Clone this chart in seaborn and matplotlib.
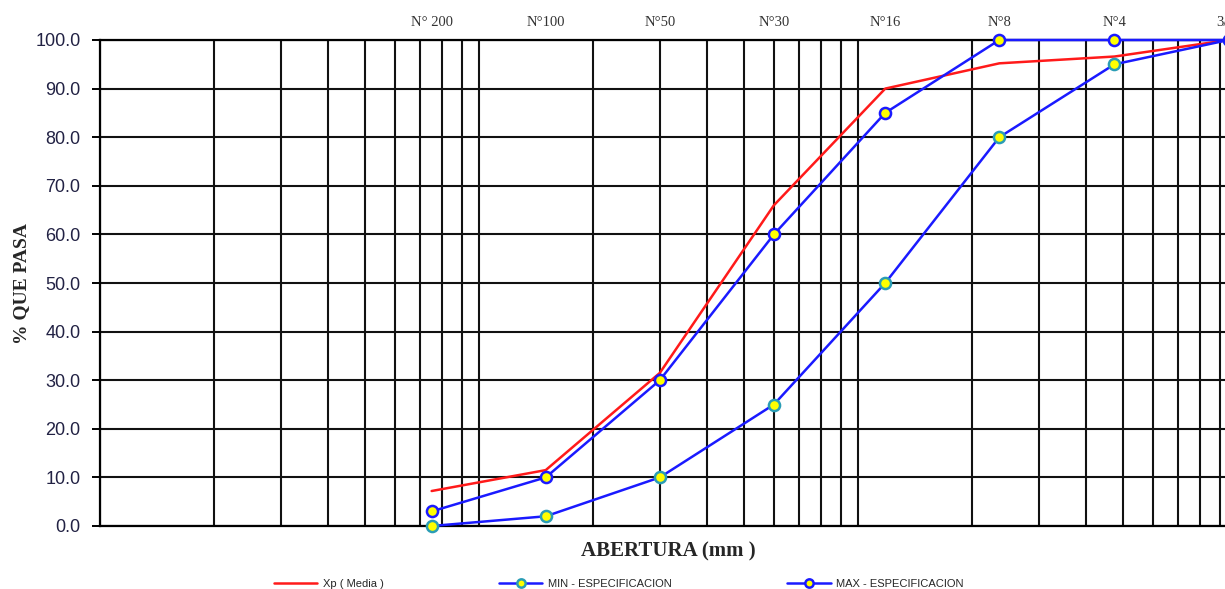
import pandas as pd
import matplotlib
matplotlib.use("Agg")
import matplotlib.pyplot as plt
import matplotlib.ticker as mticker
import seaborn as sns

# Curva granulométrica: tamices y porcentajes que pasan
tamices = ["N° 200", "N°100", "N°50", "N°30", "N°16", "N°8", "N°4", "3/8\""]
abertura = [0.075, 0.15, 0.3, 0.6, 1.18, 2.36, 4.75, 9.5]
xp_media = [7.2, 11.5, 31.5, 66.0, 90.0, 95.2, 96.6, 100.0]
min_espec = [0.0, 2.0, 10.0, 25.0, 50.0, 80.0, 95.0, 100.0]
max_espec = [3.0, 10.0, 30.0, 60.0, 85.0, 100.0, 100.0, 100.0]

df = pd.DataFrame({
    "Abertura": abertura,
    "Xp": xp_media,
    "MIN": min_espec,
    "MAX": max_espec,
})

sns.set_style("white")
plt.rcParams["font.family"] = ["Liberation Sans", "DejaVu Sans"]

fig = plt.figure(figsize=(12.25, 5.89), dpi=100)
ax = fig.add_axes([100 / 1225, 63 / 589, 1137 / 1225, 486 / 589])
ax.set_xscale("log")

sns.lineplot(data=df, x="Abertura", y="Xp", ax=ax, color="#FF1A1A", lw=1.8,
             label="Xp ( Media )", zorder=4)
sns.lineplot(data=df, x="Abertura", y="MIN", ax=ax, color="#1A1AFF", lw=1.8,
             marker="o", markersize=8, markerfacecolor="#FFFF00",
             markeredgecolor="#2A9DB5", markeredgewidth=1.8,
             label="MIN - ESPECIFICACION", zorder=5, clip_on=False)
sns.lineplot(data=df, x="Abertura", y="MAX", ax=ax, color="#1A1AFF", lw=1.8,
             marker="o", markersize=8, markerfacecolor="#FFFF00",
             markeredgecolor="#1A1AFF", markeredgewidth=1.8,
             label="MAX - ESPECIFICACION", zorder=5, clip_on=False)

ax.set_xlim(0.01, 10)
ax.set_ylim(0, 100)
ax.set_yticks(range(0, 101, 10))
ax.yaxis.set_major_formatter(mticker.FormatStrFormatter("%.1f"))
ax.xaxis.set_major_formatter(mticker.NullFormatter())
ax.xaxis.set_minor_formatter(mticker.NullFormatter())
ax.xaxis.set_minor_locator(mticker.LogLocator(base=10, subs=range(2, 10)))
ax.grid(which="both", color="#111111", lw=1.5)
ax.tick_params(axis="x", which="both", length=0)
ax.tick_params(axis="y", length=6, width=1.4, color="black", left=True,
               labelsize=13, labelcolor="#222244", pad=8)
for s in ax.spines.values():
    s.set_color("black")
    s.set_linewidth(1.6)

ax.set_xlabel("ABERTURA (mm )", fontsize=15, fontweight="bold",
              family="Liberation Serif", labelpad=8)
ax.set_ylabel("% QUE PASA", fontsize=14, fontweight="bold",
              family="Liberation Serif", labelpad=4)

# Nombres de tamices arriba
top = ax.secondary_xaxis("top")
top.set_xticks(abertura)
top.set_xticklabels(tamices, fontsize=10.5, family="Liberation Serif", color="#333333")
top.xaxis.set_minor_locator(mticker.NullLocator())
top.tick_params(length=0, pad=8)
top.spines["top"].set_visible(False)

ax.legend_.remove()
h, l = ax.get_legend_handles_labels()
fig.legend(h, l, loc="center", bbox_to_anchor=(0.505, 0.009), ncol=3, frameon=False,
           fontsize=8, handlelength=3.9, handletextpad=0.5, columnspacing=10.4,
           markerscale=0.75)

fig.savefig("out.png", dpi=100)
